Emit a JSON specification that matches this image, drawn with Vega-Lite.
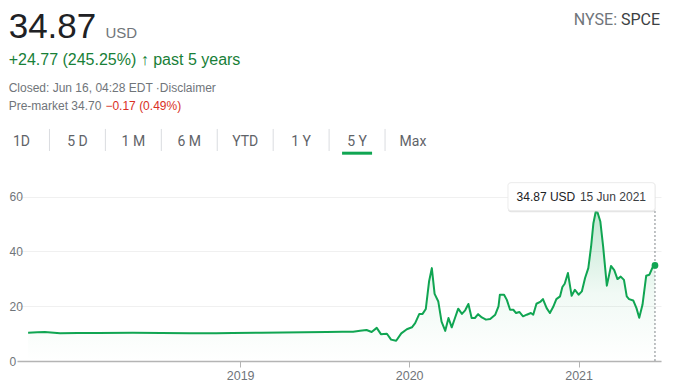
{
  "$schema": "https://vega.github.io/schema/vega-lite/v6.json",
  "width": 644,
  "height": 180,
  "autosize": {"type": "none"},
  "padding": {"left": 17, "top": 181, "right": 17, "bottom": 30},
  "background": "white",
  "config": {"view": {"stroke": null}, "font": "Liberation Sans"},
  "datasets": {
    "prices": [
      {"date": "2017-09-30", "price": 10.3},
      {"date": "2017-10-20", "price": 10.5},
      {"date": "2017-11-05", "price": 10.6},
      {"date": "2017-12-08", "price": 10.1},
      {"date": "2018-01-15", "price": 10.2},
      {"date": "2018-03-01", "price": 10.2},
      {"date": "2018-05-14", "price": 10.3},
      {"date": "2018-07-15", "price": 10.2},
      {"date": "2018-09-14", "price": 10.1},
      {"date": "2018-11-10", "price": 10.15},
      {"date": "2018-12-16", "price": 10.2},
      {"date": "2019-02-15", "price": 10.3},
      {"date": "2019-04-03", "price": 10.4},
      {"date": "2019-05-20", "price": 10.5},
      {"date": "2019-07-07", "price": 10.6},
      {"date": "2019-08-10", "price": 10.7},
      {"date": "2019-09-02", "price": 10.7},
      {"date": "2019-09-17", "price": 11.0},
      {"date": "2019-10-01", "price": 11.3},
      {"date": "2019-10-12", "price": 10.6},
      {"date": "2019-10-23", "price": 12.1},
      {"date": "2019-11-01", "price": 9.8},
      {"date": "2019-11-14", "price": 9.95},
      {"date": "2019-11-23", "price": 7.8},
      {"date": "2019-12-04", "price": 7.4},
      {"date": "2019-12-15", "price": 10.1},
      {"date": "2019-12-27", "price": 11.6},
      {"date": "2020-01-07", "price": 12.3},
      {"date": "2020-01-14", "price": 13.8},
      {"date": "2020-01-23", "price": 17.2},
      {"date": "2020-01-30", "price": 17.2},
      {"date": "2020-02-06", "price": 19.0},
      {"date": "2020-02-13", "price": 29.0},
      {"date": "2020-02-19", "price": 33.9},
      {"date": "2020-02-25", "price": 24.5},
      {"date": "2020-03-04", "price": 21.7},
      {"date": "2020-03-11", "price": 14.4},
      {"date": "2020-03-19", "price": 11.0},
      {"date": "2020-03-26", "price": 15.7},
      {"date": "2020-04-02", "price": 12.3},
      {"date": "2020-04-09", "price": 15.7},
      {"date": "2020-04-16", "price": 19.1},
      {"date": "2020-04-24", "price": 17.2},
      {"date": "2020-05-01", "price": 18.5},
      {"date": "2020-05-08", "price": 20.8},
      {"date": "2020-05-15", "price": 15.7},
      {"date": "2020-05-22", "price": 15.7},
      {"date": "2020-05-29", "price": 17.1},
      {"date": "2020-06-06", "price": 15.9},
      {"date": "2020-06-15", "price": 15.1},
      {"date": "2020-06-24", "price": 15.3},
      {"date": "2020-07-05", "price": 16.9},
      {"date": "2020-07-12", "price": 19.9},
      {"date": "2020-07-15", "price": 24.2},
      {"date": "2020-07-24", "price": 24.2},
      {"date": "2020-07-30", "price": 22.3},
      {"date": "2020-08-06", "price": 18.7},
      {"date": "2020-08-13", "price": 18.7},
      {"date": "2020-08-19", "price": 17.5},
      {"date": "2020-08-26", "price": 17.9},
      {"date": "2020-09-03", "price": 16.3},
      {"date": "2020-09-11", "price": 16.9},
      {"date": "2020-09-20", "price": 17.5},
      {"date": "2020-09-25", "price": 16.9},
      {"date": "2020-10-02", "price": 20.9},
      {"date": "2020-10-11", "price": 21.7},
      {"date": "2020-10-16", "price": 22.6},
      {"date": "2020-10-24", "price": 19.3},
      {"date": "2020-10-31", "price": 17.5},
      {"date": "2020-11-07", "price": 19.7},
      {"date": "2020-11-14", "price": 22.6},
      {"date": "2020-11-22", "price": 23.6},
      {"date": "2020-11-27", "price": 27.0},
      {"date": "2020-12-02", "price": 28.2},
      {"date": "2020-12-09", "price": 32.1},
      {"date": "2020-12-17", "price": 23.8},
      {"date": "2020-12-24", "price": 26.0},
      {"date": "2021-01-01", "price": 24.2},
      {"date": "2021-01-08", "price": 25.4},
      {"date": "2021-01-15", "price": 30.3},
      {"date": "2021-01-22", "price": 33.9},
      {"date": "2021-01-28", "price": 41.8},
      {"date": "2021-02-02", "price": 50.3},
      {"date": "2021-02-07", "price": 54.5},
      {"date": "2021-02-11", "price": 54.2},
      {"date": "2021-02-17", "price": 50.9},
      {"date": "2021-02-23", "price": 41.8},
      {"date": "2021-03-03", "price": 27.5},
      {"date": "2021-03-12", "price": 34.7},
      {"date": "2021-03-19", "price": 33.2},
      {"date": "2021-03-26", "price": 29.9},
      {"date": "2021-04-02", "price": 30.8},
      {"date": "2021-04-09", "price": 29.6},
      {"date": "2021-04-15", "price": 23.6},
      {"date": "2021-04-20", "price": 22.6},
      {"date": "2021-04-29", "price": 22.1},
      {"date": "2021-05-06", "price": 19.3},
      {"date": "2021-05-12", "price": 15.8},
      {"date": "2021-05-19", "price": 20.5},
      {"date": "2021-05-27", "price": 31.1},
      {"date": "2021-06-03", "price": 31.5},
      {"date": "2021-06-10", "price": 34.3},
      {"date": "2021-06-15", "price": 34.87}
    ],
    "last": [{"date": "2021-06-15", "price": 34.87}],
    "tabs": [
      {"tab": "1D"}, {"tab": "5 D"}, {"tab": "1 M"}, {"tab": "6 M"},
      {"tab": "YTD"}, {"tab": "1 Y"}, {"tab": "5 Y"}, {"tab": "Max"}
    ],
    "one": [{}]
  },
  "layer": [
    {
      "layer": [
        {
          "data": {"name": "prices"},
          "mark": {
            "type": "area",
            "color": {
              "gradient": "linear",
              "x1": 0, "y1": 0, "x2": 0, "y2": 1,
              "stops": [
                {"offset": 0, "color": "rgba(16,165,82,0.26)"},
                {"offset": 0.55, "color": "rgba(16,165,82,0.06)"},
                {"offset": 1, "color": "rgba(16,165,82,0)"}
              ]
            }
          },
          "encoding": {
            "x": {
              "field": "date", "type": "temporal",
              "scale": {"domain": [{"year": 2017, "month": 9, "date": 6}, {"year": 2021, "month": 6, "date": 28}]},
              "axis": {
                "values": [{"year": 2019, "month": 1, "date": 1}, {"year": 2020, "month": 1, "date": 1}, {"year": 2021, "month": 1, "date": 1}],
                "format": "%Y", "title": null, "grid": false,
                "domainColor": "#b4b4b4", "domainWidth": 1.5,
                "tickColor": "#b4b4b4", "tickSize": 6, "tickWidth": 1,
                "labelColor": "#70757a", "labelFontSize": 12.5, "labelPadding": 2,
                "labelFont": "Liberation Sans"
              }
            },
            "y": {
              "field": "price", "type": "quantitative",
              "scale": {"domain": [0, 65.7], "nice": false, "zero": true},
              "axis": {
                "values": [0, 20, 40, 60], "title": null, "domain": false,
                "ticks": false, "tickSize": 0, "labelAlign": "left", "labelPadding": 8,
                "grid": true, "gridColor": "#f0f0f0", "gridWidth": 1,
                "labelColor": "#70757a", "labelFontSize": 12,
                "labelFont": "Liberation Sans"
              }
            }
          }
        },
        {
          "data": {"name": "prices"},
          "mark": {"type": "line", "color": "#10a552", "strokeWidth": 2, "strokeJoin": "round"},
          "encoding": {
            "x": {"field": "date", "type": "temporal"},
            "y": {"field": "price", "type": "quantitative"}
          }
        },
        {
          "data": {"name": "last"},
          "mark": {"type": "rule", "color": "#80868b", "strokeWidth": 1, "strokeDash": [2, 2]},
          "encoding": {
            "x": {"field": "date", "type": "temporal"},
            "y": {"datum": 0, "type": "quantitative"},
            "y2": {"datum": 54.86}
          }
        },
        {
          "data": {"name": "last"},
          "mark": {"type": "circle", "color": "#10a552", "size": 45, "opacity": 1},
          "encoding": {
            "x": {"field": "date", "type": "temporal"},
            "y": {"field": "price", "type": "quantitative"}
          }
        },
        {
          "data": {"name": "last"},
          "mark": {"type": "rect", "fill": "#c8c8c8", "opacity": 0.5, "cornerRadius": 3, "xOffset": -147, "x2Offset": 0.5, "y2Offset": 1.5},
          "encoding": {
            "x": {"field": "date", "type": "temporal"},
            "x2": {"field": "date"},
            "y": {"datum": 65.08, "type": "quantitative"},
            "y2": {"datum": 54.86}
          }
        },
        {
          "data": {"name": "last"},
          "mark": {"type": "rect", "fill": "white", "stroke": "#ececec", "strokeWidth": 1, "cornerRadius": 3, "xOffset": -147, "x2Offset": 0},
          "encoding": {
            "x": {"field": "date", "type": "temporal"},
            "x2": {"field": "date"},
            "y": {"datum": 65.08, "type": "quantitative"},
            "y2": {"datum": 54.86}
          }
        },
        {
          "data": {"name": "last"},
          "mark": {"type": "text", "text": "34.87 USD", "align": "left", "baseline": "alphabetic", "dx": -138.4, "fontSize": 12, "color": "#202124"},
          "encoding": {
            "x": {"field": "date", "type": "temporal"},
            "y": {"datum": 58.5, "type": "quantitative"}
          }
        },
        {
          "data": {"name": "last"},
          "mark": {"type": "text", "text": "15 Jun 2021", "align": "right", "baseline": "alphabetic", "dx": -9, "fontSize": 12, "color": "#3c4043"},
          "encoding": {
            "x": {"field": "date", "type": "temporal"},
            "y": {"datum": 58.5, "type": "quantitative"}
          }
        },
        {
          "data": {"name": "one"},
          "mark": {"type": "text", "text": "34.87", "align": "left", "baseline": "alphabetic", "fontSize": 35, "color": "#202124"},
          "encoding": {
            "x": {"datum": {"year": 2017, "month": 8, "date": 19}, "type": "temporal"},
            "y": {"datum": 118.0, "type": "quantitative"}
          }
        },
        {
          "data": {"name": "one"},
          "mark": {"type": "text", "text": "USD", "align": "left", "baseline": "alphabetic", "fontSize": 15, "color": "#70757a"},
          "encoding": {
            "x": {"datum": {"year": 2018, "month": 3, "date": 16}, "type": "temporal"},
            "y": {"datum": 118.0, "type": "quantitative"}
          }
        },
        {
          "data": {"name": "one"},
          "mark": {"type": "text", "text": "+24.77 (245.25%) ↑ past 5 years", "align": "left", "baseline": "alphabetic", "fontSize": 16, "color": "#188038"},
          "encoding": {
            "x": {"datum": {"year": 2017, "month": 8, "date": 19}, "type": "temporal"},
            "y": {"datum": 108.0, "type": "quantitative"}
          }
        },
        {
          "data": {"name": "one"},
          "mark": {"type": "text", "text": "Closed: Jun 16, 04:28 EDT ·Disclaimer", "align": "left", "baseline": "alphabetic", "fontSize": 12, "color": "#70757a"},
          "encoding": {
            "x": {"datum": {"year": 2017, "month": 8, "date": 19}, "type": "temporal"},
            "y": {"datum": 98.1, "type": "quantitative"}
          }
        },
        {
          "data": {"name": "one"},
          "mark": {"type": "text", "text": "Pre-market 34.70", "align": "left", "baseline": "alphabetic", "fontSize": 12, "color": "#70757a"},
          "encoding": {
            "x": {"datum": {"year": 2017, "month": 8, "date": 19}, "type": "temporal"},
            "y": {"datum": 91.6, "type": "quantitative"}
          }
        },
        {
          "data": {"name": "one"},
          "mark": {"type": "text", "text": "−0.17 (0.49%)", "align": "left", "baseline": "alphabetic", "fontSize": 12, "color": "#d93025"},
          "encoding": {
            "x": {"datum": {"year": 2018, "month": 3, "date": 16}, "type": "temporal"},
            "y": {"datum": 91.6, "type": "quantitative"}
          }
        },
        {
          "data": {"name": "one"},
          "mark": {"type": "text", "text": "NYSE:", "align": "right", "baseline": "alphabetic", "fontSize": 16, "font": "Roboto", "color": "#70757a"},
          "encoding": {
            "x": {"datum": {"year": 2021, "month": 3, "date": 25}, "type": "temporal"},
            "y": {"datum": 122.6, "type": "quantitative"}
          }
        },
        {
          "data": {"name": "one"},
          "mark": {"type": "text", "text": "SPCE", "align": "right", "baseline": "alphabetic", "fontSize": 16, "font": "Roboto", "color": "#3c4043"},
          "encoding": {
            "x": {"datum": {"year": 2021, "month": 6, "date": 26}, "type": "temporal"},
            "y": {"datum": 122.6, "type": "quantitative"}
          }
        }
      ]
    },
    {
      "data": {"name": "tabs"},
      "layer": [
        {
          "mark": {"type": "text", "align": "center", "baseline": "alphabetic", "fontSize": 14, "font": "Roboto", "color": "#5f6368"},
          "encoding": {
            "x": {
              "field": "tab", "type": "nominal", "sort": null,
              "scale": {"type": "point", "domain": ["1D", "5 D", "1 M", "6 M", "YTD", "1 Y", "5 Y", "Max"], "range": [4.5, 396], "padding": 0},
              "axis": null
            },
            "y": {"datum": 78.6, "type": "quantitative"},
            "text": {"field": "tab"}
          }
        },
        {
          "transform": [{"filter": "datum.tab != 'Max'"}],
          "mark": {"type": "rule", "color": "#dadce0", "strokeWidth": 1, "xOffset": 27.96},
          "encoding": {
            "x": {"field": "tab", "type": "nominal", "sort": null},
            "y": {"datum": 84.7, "type": "quantitative"},
            "y2": {"datum": 76.65}
          }
        },
        {
          "transform": [{"filter": "datum.tab == '5 Y'"}],
          "mark": {"type": "rule", "color": "#10a552", "strokeWidth": 3, "xOffset": -15, "x2Offset": 15},
          "encoding": {
            "x": {"field": "tab", "type": "nominal", "sort": null},
            "x2": {"field": "tab"},
            "y": {"datum": 75.85, "type": "quantitative"}
          }
        }
      ]
    }
  ],
  "resolve": {"scale": {"x": "independent"}}
}
